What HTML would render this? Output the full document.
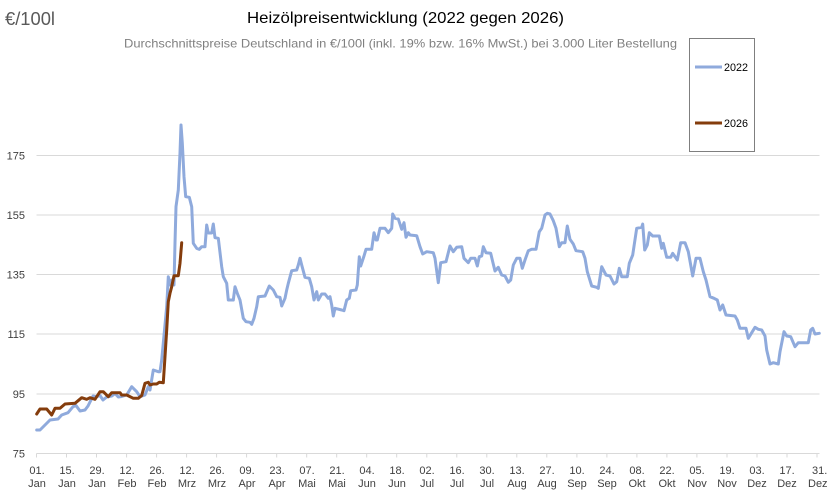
<!DOCTYPE html>
<html>
<head>
<meta charset="utf-8">
<style>
html,body{margin:0;padding:0;background:#fff;overflow:hidden;}
svg{display:block;}
text{font-family:"Liberation Sans",sans-serif;}
</style>
</head>
<body>
<svg width="829" height="499" viewBox="0 0 829 499" xmlns="http://www.w3.org/2000/svg">
<rect width="829" height="499" fill="#fff"/>
<!-- titles -->
<text x="5" y="25" font-size="18" fill="#595959" textLength="50" lengthAdjust="spacingAndGlyphs">€/100l</text>
<text x="247" y="23" font-size="16" fill="#000" textLength="317" lengthAdjust="spacingAndGlyphs">Heizölpreisentwicklung (2022 gegen 2026)</text>
<text x="124" y="47.5" font-size="12" fill="#808080" textLength="553" lengthAdjust="spacingAndGlyphs">Durchschnittspreise Deutschland in €/100l (inkl. 19% bzw. 16%  MwSt.) bei 3.000 Liter Bestellung</text>

<!-- gridlines -->
<g stroke="#d9d9d9" stroke-width="1">
<line x1="36.5" y1="155.5" x2="819.5" y2="155.5"/>
<line x1="36.5" y1="215" x2="819.5" y2="215"/>
<line x1="36.5" y1="274.5" x2="819.5" y2="274.5"/>
<line x1="36.5" y1="334" x2="819.5" y2="334"/>
<line x1="36.5" y1="394" x2="819.5" y2="394"/>
<line x1="36.5" y1="453.5" x2="819.5" y2="453.5"/>
</g>
<!-- ticks -->
<g stroke="#d9d9d9" stroke-width="1">
<line x1="36.5" y1="453.5" x2="36.5" y2="457.5"/>
<line x1="66.5" y1="453.5" x2="66.5" y2="457.5"/>
<line x1="96.5" y1="453.5" x2="96.5" y2="457.5"/>
<line x1="126.6" y1="453.5" x2="126.6" y2="457.5"/>
<line x1="156.6" y1="453.5" x2="156.6" y2="457.5"/>
<line x1="186.6" y1="453.5" x2="186.6" y2="457.5"/>
<line x1="216.6" y1="453.5" x2="216.6" y2="457.5"/>
<line x1="246.6" y1="453.5" x2="246.6" y2="457.5"/>
<line x1="276.7" y1="453.5" x2="276.7" y2="457.5"/>
<line x1="306.7" y1="453.5" x2="306.7" y2="457.5"/>
<line x1="336.7" y1="453.5" x2="336.7" y2="457.5"/>
<line x1="366.7" y1="453.5" x2="366.7" y2="457.5"/>
<line x1="396.7" y1="453.5" x2="396.7" y2="457.5"/>
<line x1="426.8" y1="453.5" x2="426.8" y2="457.5"/>
<line x1="456.8" y1="453.5" x2="456.8" y2="457.5"/>
<line x1="486.8" y1="453.5" x2="486.8" y2="457.5"/>
<line x1="516.8" y1="453.5" x2="516.8" y2="457.5"/>
<line x1="546.8" y1="453.5" x2="546.8" y2="457.5"/>
<line x1="576.9" y1="453.5" x2="576.9" y2="457.5"/>
<line x1="606.9" y1="453.5" x2="606.9" y2="457.5"/>
<line x1="636.9" y1="453.5" x2="636.9" y2="457.5"/>
<line x1="666.9" y1="453.5" x2="666.9" y2="457.5"/>
<line x1="696.9" y1="453.5" x2="696.9" y2="457.5"/>
<line x1="727.0" y1="453.5" x2="727.0" y2="457.5"/>
<line x1="757.0" y1="453.5" x2="757.0" y2="457.5"/>
<line x1="787.0" y1="453.5" x2="787.0" y2="457.5"/>
<line x1="817.0" y1="453.5" x2="817.0" y2="457.5"/>
</g>

<!-- y labels -->
<g font-size="11" fill="#404040" text-anchor="end">
<text x="25" y="159.5">175</text>
<text x="25" y="219">155</text>
<text x="25" y="278.5">135</text>
<text x="25" y="338">115</text>
<text x="25" y="398">95</text>
<text x="25" y="457.5">75</text>
</g>

<!-- x labels -->
<g font-size="11" fill="#404040" text-anchor="middle">
<text x="37" y="474">01.</text><text x="37" y="487">Jan</text>
<text x="67" y="474">15.</text><text x="67" y="487">Jan</text>
<text x="97" y="474">29.</text><text x="97" y="487">Jan</text>
<text x="127" y="474">12.</text><text x="127" y="487">Feb</text>
<text x="157" y="474">26.</text><text x="157" y="487">Feb</text>
<text x="187" y="474">12.</text><text x="187" y="487">Mrz</text>
<text x="217" y="474">26.</text><text x="217" y="487">Mrz</text>
<text x="247" y="474">09.</text><text x="247" y="487">Apr</text>
<text x="277" y="474">23.</text><text x="277" y="487">Apr</text>
<text x="307" y="474">07.</text><text x="307" y="487">Mai</text>
<text x="337" y="474">21.</text><text x="337" y="487">Mai</text>
<text x="367" y="474">04.</text><text x="367" y="487">Jun</text>
<text x="397" y="474">18.</text><text x="397" y="487">Jun</text>
<text x="427" y="474">02.</text><text x="427" y="487">Jul</text>
<text x="457" y="474">16.</text><text x="457" y="487">Jul</text>
<text x="487" y="474">30.</text><text x="487" y="487">Jul</text>
<text x="517" y="474">13.</text><text x="517" y="487">Aug</text>
<text x="547" y="474">27.</text><text x="547" y="487">Aug</text>
<text x="577" y="474">10.</text><text x="577" y="487">Sep</text>
<text x="607" y="474">24.</text><text x="607" y="487">Sep</text>
<text x="637" y="474">08.</text><text x="637" y="487">Okt</text>
<text x="667" y="474">22.</text><text x="667" y="487">Okt</text>
<text x="697" y="474">05.</text><text x="697" y="487">Nov</text>
<text x="727" y="474">19.</text><text x="727" y="487">Nov</text>
<text x="757" y="474">03.</text><text x="757" y="487">Dez</text>
<text x="787" y="474">17.</text><text x="787" y="487">Dez</text>
</g>
<g font-size="11" fill="#404040" text-anchor="start">
<text x="812" y="474">31.</text><text x="808" y="487">Dez</text>
</g>

<!-- 2022 series -->
<polyline fill="none" stroke="#8FAADC" stroke-width="3" stroke-linejoin="round" stroke-linecap="round" points="36.7,430 40,430 50,420 58,419 61.7,415 68,412.7 73,406.7 76,405.5 80,411 85,410 88,406 93,396 96.7,396.7 100,395.5 103,400 106.7,397 111.7,396 115,393.5 118.3,397 121.7,396.5 126.7,395 131.7,386.7 136.7,391.7 140,396.7 145,395 148.3,386.7 150,390 153.3,370 158.3,371.7 160,371.7 161.7,360 163.3,343 166.7,306.7 168.3,276.7 170,285 171.7,280 174,285 175,243 176,206.7 178.3,190 180,153 181,125 182.3,143 184,176.7 185.7,196.7 189.3,197.3 191.7,206.7 193.3,243.3 196.7,248.3 199.3,249.3 201.7,246.7 205,246.7 206.7,225 208.3,233 211.7,233 213.3,224 215,237.7 218.3,238.3 221.7,266.7 223.3,276.7 226.7,283.3 228.3,300 233.3,300 235,286.7 237.3,293.3 240,300 243.3,318.3 246,321.7 250,322.3 251.7,324.3 254,318.3 256.7,306.7 258.3,296.7 265,296 269.3,286 273.3,290 275,293.3 276.7,296.7 280,297.3 281.7,306 285,298.3 286.7,290 288.3,283.3 291.7,270.7 296.7,270 298.3,265 300,258.3 301.7,265 305,277.3 309.3,278.3 311.7,286.7 314,300 316.7,291.7 318.3,300 321.7,294 325,294 328.3,298.3 330,296.7 331.7,305 333.3,316 335,308.3 341.7,310 344,310.7 346.7,300 349.3,298.3 350.7,290.7 356,290 357.3,285 359.3,256.7 360.7,266 364,256 366,249.3 371.7,249.3 374,232.7 376,240 377.3,240 380,228.3 385,228.3 388.3,232.7 391.7,228.3 392.7,214 395,218.3 398.3,219 401.7,229.3 404,222.7 406,237.3 408.3,232.7 410,235 416.7,235.7 420,246.7 422.7,254 426.7,251.7 433.3,252.7 435,258.3 438.3,282.7 440.7,262.7 446,261.7 450,246 453.3,251.7 456.7,247.3 461.7,246.7 464,258.3 468.3,262.7 470.7,258.3 475,258.3 477.3,266 479.3,256.7 481.7,256 483.3,246.7 486,252.7 490.7,253.3 492.7,261.7 495,271 498.3,267.3 501.7,275 505,276 508.3,282.3 510.7,280 513.3,265 516.7,258.3 520,258.3 522.3,268.3 525,260 528.3,250.7 531.7,249.3 536,249.3 539.3,231.7 541.7,228.3 545,215 547.3,213.3 550,214 553.3,220.7 556,228.3 559.3,246.7 561.7,242.7 565,242.7 567.3,226 570,239.3 573.3,244 576,250.7 582.7,251.7 585,258.3 587.3,271.7 591.7,286 596.7,287.3 598.3,288.3 601.7,266.7 606,275 610,276 614,284 616.7,281.7 619.3,268.3 621.7,276.7 627.3,276.7 629.3,263.3 632.7,255 636.7,228.3 641.7,227.3 642.7,224 644.7,250 647.3,245 649.3,232.7 652.7,236 659.3,236 661.7,248.3 663.3,243.3 666.7,257.3 670.7,257.3 672.7,253.3 677.3,260 680.7,242.7 685,242.7 688.3,251.7 692.7,276 696,258.3 700,258.3 703.3,271.7 706,280 710,296.7 714,298.3 717.3,300 720,310 722.7,305 726,315 735,316 737.3,320 740,328.3 746,328.3 748.3,338.3 755,327.3 758.3,329.3 761.7,330 765,336 766.7,350 770,364 773.3,362.7 778.3,364 780,351.7 784,331.7 786.7,336 790.7,336.7 795,346.7 798.3,342.7 808.3,342.7 810.7,330 812.7,328.3 815,334 819.3,333.3"/>

<!-- 2026 series -->
<polyline fill="none" stroke="#843C0C" stroke-width="3" stroke-linejoin="round" stroke-linecap="round" points="36.7,414 40,409 46.7,409 51.7,415 55,408.3 60,408.3 65,404 75,403.3 81.7,397.7 86.7,399.3 90,397.7 95,399.3 100,391.7 103.3,391.7 108.3,396.7 111.7,392.7 120,392.7 121.7,395 126.7,395 133.3,398.3 138.3,398.3 141.7,395.5 145,383.3 148.3,382.3 150,385 153.3,384 156.7,384 159.3,382.3 163.3,382.7 165,356.7 166.7,330 168.3,301.7 170,293.3 171.7,286.7 174,275.7 178.3,275.7 180,263.3 181.7,242.7"/>

<!-- legend -->
<rect x="689.5" y="38.5" width="65" height="113" fill="#fff" stroke="#7f7f7f" stroke-width="1"/>
<line x1="695" y1="67" x2="722" y2="67" stroke="#8FAADC" stroke-width="3"/>
<text x="724" y="71" font-size="11" fill="#000" textLength="24" lengthAdjust="spacingAndGlyphs">2022</text>
<line x1="695" y1="123" x2="722" y2="123" stroke="#843C0C" stroke-width="3"/>
<text x="724" y="127" font-size="11" fill="#000" textLength="24" lengthAdjust="spacingAndGlyphs">2026</text>
</svg>
</body>
</html>
